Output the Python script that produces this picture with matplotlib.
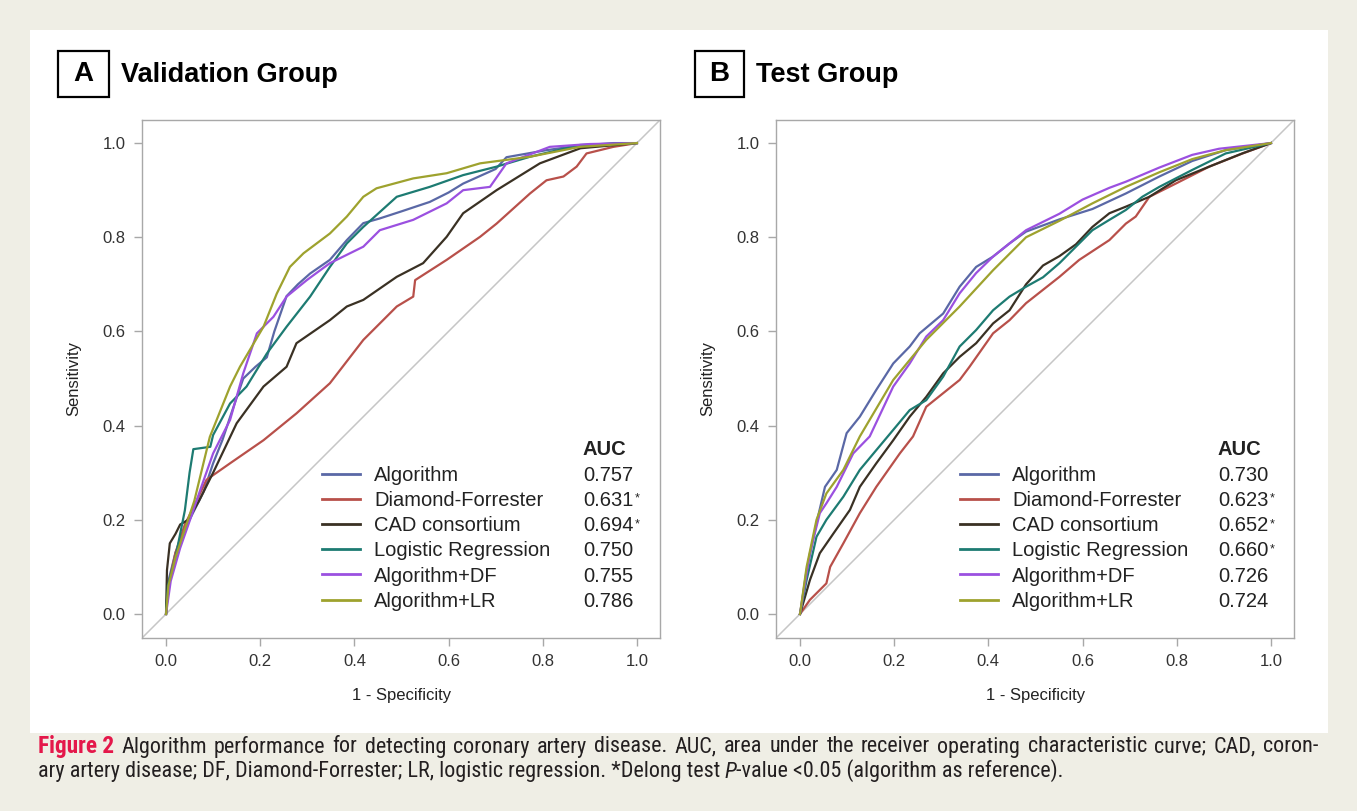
import matplotlib.pyplot as plt
import matplotlib.patches as patches
from matplotlib import font_manager
from matplotlib.text import Annotation
import numpy as np

plt.rcParams['font.family'] = ['Liberation Sans', 'DejaVu Sans']

# models, colours and AUCs
models = ['Algorithm', 'Diamond-Forrester', 'CAD consortium',
          'Logistic Regression', 'Algorithm+DF', 'Algorithm+LR']
colors = ['#5a68a6', '#b8504a', '#3a3124', '#1d7b72', '#9b50e0', '#9ea22e']

val_auc = ['0.757', '0.631', '0.694', '0.750', '0.755', '0.786']
val_sig = [False, True, True, False, False, False]
test_auc = ['0.730', '0.623', '0.652', '0.660', '0.726', '0.724']
test_sig = [False, True, True, True, False, False]

# ROC points: (1 - specificity, sensitivity)
# --- validation group ---
val_alg_x = [0, 0.005, 0.02, 0.04, 0.06, 0.08, 0.10, 0.12, 0.14, 0.164, 0.19, 0.214, 0.23, 0.256, 0.28,
             0.306, 0.348, 0.384, 0.419, 0.454, 0.50, 0.56, 0.60, 0.631, 0.70, 0.723, 0.808, 0.88, 0.95, 1.0]
val_alg_y = [0, 0.07, 0.13, 0.18, 0.22, 0.26, 0.32, 0.37, 0.43, 0.50, 0.525, 0.545, 0.60, 0.675, 0.70,
             0.723, 0.752, 0.794, 0.83, 0.84, 0.855, 0.875, 0.895, 0.914, 0.945, 0.97, 0.985, 0.995, 1.0, 1.0]
val_df_x = [0, 0.005, 0.02, 0.04, 0.06, 0.086, 0.136, 0.207, 0.277, 0.348, 0.419, 0.49, 0.525, 0.529,
            0.596, 0.667, 0.702, 0.773, 0.808, 0.844, 0.872, 0.893, 0.95, 1.0]
val_df_y = [0, 0.06, 0.13, 0.19, 0.23, 0.285, 0.32, 0.369, 0.426, 0.49, 0.582, 0.653, 0.674, 0.709,
            0.752, 0.801, 0.829, 0.893, 0.921, 0.929, 0.95, 0.978, 0.992, 1.0]
val_cad_x = [0, 0.002, 0.008, 0.02, 0.03, 0.047, 0.07, 0.1, 0.15, 0.207, 0.256, 0.277, 0.348, 0.384,
             0.419, 0.49, 0.546, 0.596, 0.631, 0.702, 0.794, 0.88, 1.0]
val_cad_y = [0, 0.093, 0.15, 0.17, 0.19, 0.2, 0.24, 0.3, 0.405, 0.483, 0.525, 0.575, 0.624, 0.653,
             0.667, 0.716, 0.745, 0.801, 0.851, 0.9, 0.957, 0.989, 1.0]
val_lr_x = [0, 0.004, 0.02, 0.04, 0.05, 0.058, 0.094, 0.10, 0.136, 0.171, 0.214, 0.256, 0.306, 0.348,
            0.384, 0.419, 0.49, 0.56, 0.631, 0.702, 0.773, 0.879, 1.0]
val_lr_y = [0, 0.06, 0.12, 0.22, 0.30, 0.35, 0.355, 0.38, 0.447, 0.483, 0.553, 0.61, 0.674, 0.737,
            0.787, 0.822, 0.886, 0.907, 0.932, 0.95, 0.971, 0.996, 1.0]
val_adf_x = [0, 0.01, 0.03, 0.051, 0.075, 0.1, 0.136, 0.164, 0.193, 0.228, 0.256, 0.299, 0.348, 0.419,
             0.454, 0.525, 0.596, 0.631, 0.688, 0.723, 0.815, 0.9, 1.0]
val_adf_y = [0, 0.07, 0.14, 0.2, 0.27, 0.341, 0.412, 0.511, 0.596, 0.631, 0.674, 0.709, 0.745, 0.78,
             0.815, 0.837, 0.872, 0.9, 0.907, 0.957, 0.992, 0.998, 1.0]
val_alr_x = [0, 0.005, 0.02, 0.04, 0.06, 0.093, 0.136, 0.157, 0.207, 0.235, 0.263, 0.292, 0.348, 0.384,
             0.419, 0.447, 0.525, 0.596, 0.667, 0.773, 0.879, 1.0]
val_alr_y = [0, 0.06, 0.12, 0.18, 0.24, 0.376, 0.483, 0.525, 0.61, 0.68, 0.737, 0.766, 0.808, 0.844,
             0.886, 0.904, 0.925, 0.936, 0.957, 0.971, 0.992, 1.0]

# --- test group ---
test_alg_x = [0, 0.014, 0.035, 0.053, 0.078, 0.099, 0.127, 0.162, 0.198, 0.233, 0.254, 0.304, 0.339,
              0.374, 0.41, 0.445, 0.48, 0.551, 0.621, 0.692, 0.763, 0.833, 0.904, 1.0]
test_alg_y = [0, 0.093, 0.193, 0.27, 0.306, 0.384, 0.419, 0.476, 0.532, 0.568, 0.596, 0.638, 0.695,
              0.737, 0.759, 0.787, 0.812, 0.838, 0.86, 0.893, 0.929, 0.962, 0.985, 1.0]
test_df_x = [0, 0.021, 0.056, 0.064, 0.092, 0.127, 0.162, 0.212, 0.24, 0.268, 0.339, 0.36, 0.41, 0.445,
             0.48, 0.551, 0.593, 0.657, 0.692, 0.713, 0.742, 0.798, 0.869, 0.94, 1.0]
test_df_y = [0, 0.03, 0.065, 0.1, 0.15, 0.214, 0.27, 0.341, 0.377, 0.44, 0.497, 0.525, 0.596, 0.624,
             0.66, 0.716, 0.752, 0.794, 0.829, 0.844, 0.886, 0.914, 0.95, 0.978, 1.0]
test_cad_x = [0, 0.021, 0.042, 0.071, 0.106, 0.127, 0.162, 0.198, 0.233, 0.268, 0.304, 0.339, 0.374,
              0.41, 0.445, 0.48, 0.516, 0.551, 0.586, 0.621, 0.657, 0.692, 0.742, 0.798, 0.869, 0.939, 1.0]
test_cad_y = [0, 0.072, 0.129, 0.171, 0.221, 0.27, 0.32, 0.369, 0.419, 0.461, 0.511, 0.546, 0.575,
              0.617, 0.645, 0.7, 0.74, 0.76, 0.785, 0.822, 0.851, 0.865, 0.886, 0.921, 0.95, 0.978, 1.0]
test_lr_x = [0, 0.014, 0.035, 0.056, 0.092, 0.127, 0.162, 0.198, 0.233, 0.268, 0.304, 0.339, 0.374,
             0.41, 0.445, 0.48, 0.516, 0.551, 0.586, 0.621, 0.657, 0.692, 0.727, 0.763, 0.833, 0.904, 1.0]
test_lr_y = [0, 0.072, 0.164, 0.2, 0.249, 0.306, 0.348, 0.391, 0.433, 0.454, 0.504, 0.568, 0.603,
             0.645, 0.674, 0.695, 0.715, 0.745, 0.78, 0.815, 0.837, 0.858, 0.886, 0.907, 0.943, 0.978, 1.0]
test_adf_x = [0, 0.021, 0.042, 0.056, 0.078, 0.113, 0.148, 0.198, 0.233, 0.268, 0.304, 0.339, 0.374,
              0.41, 0.445, 0.48, 0.551, 0.6, 0.657, 0.692, 0.763, 0.833, 0.89, 1.0]
test_adf_y = [0, 0.129, 0.214, 0.235, 0.27, 0.341, 0.377, 0.483, 0.532, 0.589, 0.624, 0.681, 0.724,
              0.759, 0.787, 0.815, 0.85, 0.88, 0.905, 0.918, 0.948, 0.975, 0.988, 1.0]
test_alr_x = [0, 0.014, 0.035, 0.056, 0.092, 0.127, 0.198, 0.268, 0.339, 0.41, 0.48, 0.551, 0.621,
              0.692, 0.763, 0.833, 0.904, 1.0]
test_alr_y = [0, 0.1, 0.2, 0.256, 0.306, 0.377, 0.497, 0.582, 0.653, 0.73, 0.80, 0.835, 0.872,
              0.907, 0.938, 0.966, 0.985, 1.0]

val_curves = [(val_alg_x, val_alg_y), (val_df_x, val_df_y), (val_cad_x, val_cad_y),
              (val_lr_x, val_lr_y), (val_adf_x, val_adf_y), (val_alr_x, val_alr_y)]
test_curves = [(test_alg_x, test_alg_y), (test_df_x, test_df_y), (test_cad_x, test_cad_y),
               (test_lr_x, test_lr_y), (test_adf_x, test_adf_y), (test_alr_x, test_alr_y)]

caption_1 = ('Algorithm performance for detecting coronary artery disease. AUC, area under the '
             'receiver operating characteristic curve; CAD, coron-')
caption_2a = 'ary artery disease; DF, Diamond-Forrester; LR, logistic regression. *Delong test'
caption_2b = '-value <0.05 (algorithm as reference).'

W, H = 1357, 811
fig = plt.figure(figsize=(13.57, 8.11), dpi=100, facecolor='#efeee5')
# white panel behind both charts
fig.add_artist(patches.Rectangle((0.0221, 0.0962), 0.9565, 0.8668, transform=fig.transFigure,
                                 facecolor='white', edgecolor='none', zorder=-1))

ax_left = fig.add_axes([0.1050, 0.2139, 0.3817, 0.6387])
ax_right = fig.add_axes([0.5722, 0.2139, 0.3817, 0.6387])

panels = [
    (ax_left, val_curves, val_auc, val_sig, 'A', 'Validation Group', 0.04274, 0.03758, 0.3465, 0.8504),
    (ax_right, test_curves, test_auc, test_sig, 'B', 'Test Group', 0.51216, 0.03611, 0.354, 0.8523),
]

grey = '#a8a8a8'
txt_col = '#222222'
for ax, curves, aucs, sigs, letter, title, bx, bw, legx, valx in panels:
    ax.set_facecolor('white')
    ax.axline((0, 0), (1, 1), color='#c6c6c6', lw=1.1, zorder=1)
    for name, col, (fx, ty) in zip(models, colors, curves):
        ax.plot(fx, ty, color=col, lw=1.6, label=name, zorder=2)

    ax.set_xlim(-0.05, 1.05)
    ax.set_ylim(-0.05, 1.05)
    ticks = np.arange(0, 1.01, 0.2)
    ax.set_xticks(ticks)
    ax.set_yticks(ticks)
    ax.set_xticklabels(['%.1f' % v for v in ticks])
    ax.set_yticklabels(['%.1f' % v for v in ticks])
    for s in ax.spines.values():
        s.set_color(grey)
        s.set_linewidth(1.0)
    ax.tick_params(direction='out', length=6, width=1, color=grey, labelcolor='#333333',
                   labelsize=12, pad=6)
    ax.set_xlabel('1 - Specificity', fontsize=12, color=txt_col)
    ax.set_ylabel('Sensitivity', fontsize=12, color=txt_col)
    ax.xaxis.set_label_coords(0.5, -0.098)
    ax.yaxis.set_label_coords(-0.118, 0.5)

    leg = ax.legend(loc='upper left', bbox_to_anchor=(legx, 0.332), frameon=False, fontsize=14.5,
                    handlelength=1.9, handletextpad=0.7, labelspacing=0.31,
                    borderpad=0, borderaxespad=0)
    for t in leg.get_texts():
        t.set_color(txt_col)
    for h in leg.legend_handles:
        h.set_linewidth(2.0)

    # AUC column, each value on the row of its legend entry
    rows = leg.get_texts()
    ax.annotate('AUC', xy=(valx, 0.5), xycoords=('axes fraction', rows[0]),
                xytext=(0, 18.3), textcoords='offset points', va='center',
                fontsize=14.5, fontweight='bold', color=txt_col)
    for row, a, s in zip(rows, aucs, sigs):
        v = ax.annotate(a, xy=(valx, 0.5), xycoords=('axes fraction', row), va='center',
                        fontsize=14.5, color=txt_col)
        if s:
            ax.annotate('*', xy=(1, 1), xycoords=v, xytext=(0.8, -1.5), textcoords='offset points',
                        va='top', ha='left', fontsize=9, color=txt_col)

    # panel letter box and title
    fig.add_artist(patches.Rectangle((bx, 0.8804), bw, 0.05672, transform=fig.transFigure,
                                     facecolor='white', edgecolor='black', lw=1.6))
    fig.text(bx + bw / 2, 0.9087, letter, fontsize=20, fontweight='bold', ha='center', va='center')
    fig.text(bx + bw + 0.0085, 0.9075, title, fontsize=19.5, fontweight='bold', ha='left', va='center')

# lay out legends once so the AUC values can find their rows
fig.canvas.draw()
r = fig.canvas.get_renderer()

# caption: use a narrow face when one is installed
names = {f.name for f in font_manager.fontManager.ttflist}
cap_family = 'Liberation Sans'
for cand in ['Liberation Sans Narrow', 'Roboto Condensed', 'DejaVu Sans Condensed']:
    if cand in names:
        cap_family = cand
        break
cap_col = '#231f20'
x_left, x_right = 38, 1318
y1, y2 = 1 - 747 / H, 1 - 772 / H

# size the caption so the first line, set naturally, is a little short of the full width
fs = 15.5
probe = fig.text(0, 0, 'Figure 2 ' + caption_1, fontsize=fs, family=cap_family)
fs = fs * 1235 / probe.get_window_extent(r).width
probe.remove()

# first line is justified: spread the words across the full width
words = [('Figure 2', dict(color='#e4174a', fontweight='bold', fontsize=fs * 1.06))]
words += [(w, dict(color=cap_col, fontsize=fs)) for w in caption_1.split(' ')]
wtexts = [fig.text(x_left / W, y1, w, family=cap_family, va='center', **kw) for w, kw in words]
widths = [t.get_window_extent(r).width for t in wtexts]
gap = (x_right - x_left - sum(widths)) / (len(widths) - 1)
x = x_left
for t, w in zip(wtexts, widths):
    t.set_x(x / W)
    x += w + gap

# second (last) line set naturally, with an italic P
t3 = fig.text(x_left / W, y2, caption_2a, fontsize=fs, family=cap_family, color=cap_col, va='center')
t4 = Annotation('P', xy=(1, 0), xycoords=t3, xytext=(3.0, 0), textcoords='offset points',
                va='bottom', fontsize=fs, family=cap_family, style='italic', color=cap_col)
fig.add_artist(t4)
t5 = Annotation(caption_2b, xy=(1, 0), xycoords=t4, xytext=(0, 0), textcoords='offset points',
                va='bottom', fontsize=fs, family=cap_family, color=cap_col)
fig.add_artist(t5)

fig.savefig('out.png', dpi=100, facecolor=fig.get_facecolor())
